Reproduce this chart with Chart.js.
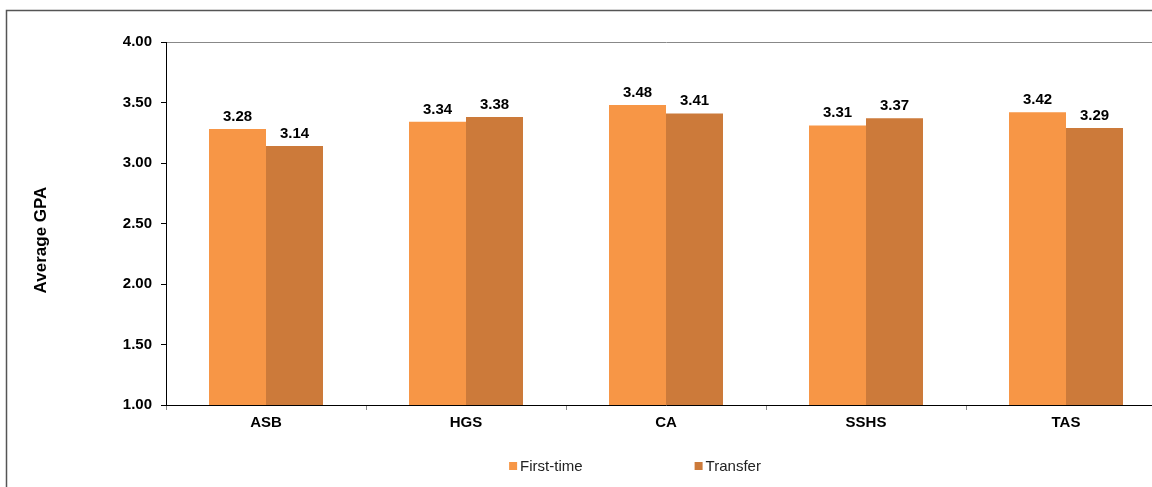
<!DOCTYPE html>
<html>
<head>
<meta charset="utf-8">
<script src="https://cdn.jsdelivr.net/npm/chart.js@4/dist/chart.umd.min.js"></script>
<style>
  html, body { margin: 0; padding: 0; background: #fff; overflow: hidden; }
  #wrap { position: absolute; left: 0; top: 0; width: 1270px; height: 487px; }
</style>
</head>
<body>
<div id="wrap"><canvas id="gpaChart" width="1270" height="487"></canvas></div>
<script>
const schools = ['ASB', 'HGS', 'CA', 'SSHS', 'TAS'];
const firstTime = [3.28, 3.34, 3.48, 3.31, 3.42];
const transfer = [3.14, 3.38, 3.41, 3.37, 3.29];
const yTicks = [1.0, 1.5, 2.0, 2.5, 3.0, 3.5, 4.0];
const yTitle = 'Average GPA';

const FONT = '"Liberation Sans", Arial, sans-serif';

// outer frame of the original chart object
const framePlugin = {
    id: 'frame',
    beforeDraw(chart) {
        const c = chart.ctx;
        c.save();
        c.strokeStyle = '#555';
        c.lineWidth = 1.5;
        c.strokeRect(6.5, 10.5, 1250, 600);
        c.restore();
    }
};

// axis title, placed a bit below the axis middle like the original
const yTitlePlugin = {
    id: 'yTitle',
    afterDraw(chart) {
        const c = chart.ctx;
        c.save();
        c.translate(41, 240);
        c.rotate(-Math.PI / 2);
        c.font = 'bold 17px ' + FONT;
        c.fillStyle = '#000';
        c.textAlign = 'center';
        c.textBaseline = 'middle';
        c.fillText(yTitle, 0, 0);
        c.restore();
    }
};

// value labels above each bar
const valueLabels = {
    id: 'valueLabels',
    afterDatasetsDraw(chart) {
        const c = chart.ctx;
        c.save();
        c.font = 'bold 15px ' + FONT;
        c.fillStyle = '#000';
        c.textAlign = 'center';
        c.textBaseline = 'alphabetic';
        chart.data.datasets.forEach((ds, i) => {
            chart.getDatasetMeta(i).data.forEach((bar, j) => {
                c.fillText(ds.data[j].toFixed(2), bar.x, bar.y - 8);
            });
        });
        c.restore();
    }
};

// legend drawn by hand so the wide gap between items can be kept
const bottomLegend = {
    id: 'bottomLegend',
    afterDraw(chart) {
        const c = chart.ctx;
        const y = 466;
        const gap = 112;
        c.save();
        c.font = '15px ' + FONT;
        c.textBaseline = 'middle';
        const items = chart.data.datasets.map(ds => ({
            text: ds.label, color: ds.backgroundColor, w: 11 + c.measureText(ds.label).width
        }));
        const total = items.reduce((s, it) => s + it.w, 0) + gap * (items.length - 1);
        let x = chart.width / 2 - total / 2;
        items.forEach(it => {
            c.fillStyle = it.color;
            c.fillRect(x, y - 4, 8, 8);
            c.fillStyle = '#222';
            c.fillText(it.text, x + 11, y + 1);
            x += it.w + gap;
        });
        c.restore();
    }
};

new Chart(document.getElementById('gpaChart').getContext('2d'), {
    type: 'bar',
    data: {
        labels: schools,
        datasets: [
            { label: 'First-time', data: firstTime, backgroundColor: '#F79646' },
            { label: 'Transfer', data: transfer, backgroundColor: '#CC7A3A' }
        ]
    },
    options: {
        responsive: false,
        animation: false,
        layout: { padding: { left: 0, right: 104, top: 42, bottom: 52 } },
        datasets: { bar: { categoryPercentage: 0.57, barPercentage: 1.0 } },
        plugins: { legend: { display: false }, tooltip: { enabled: false } },
        scales: {
            x: {
                grid: { color: 'transparent', tickColor: '#888', tickLength: 5, offset: true },
                border: { color: '#000', width: 1 },
                ticks: { color: '#000', padding: 4, font: { family: FONT, size: 15, weight: 'bold' } },
                afterFit: s => { s.height = 30; }
            },
            y: {
                min: 1, max: 4,
                afterBuildTicks: s => { s.ticks = yTicks.map(v => ({ value: v })); },
                grid: {
                    color: ctx => ctx.tick && ctx.tick.value === 4 ? '#888' : 'transparent',
                    tickColor: '#000', tickLength: 5
                },
                border: { color: '#000', width: 1 },
                ticks: {
                    color: '#000', padding: 9,
                    font: { family: FONT, size: 15, weight: 'bold' },
                    callback: v => Number(v).toFixed(2)
                },
                afterFit: s => { s.width = 166; }
            }
        }
    },
    plugins: [framePlugin, yTitlePlugin, valueLabels, bottomLegend]
});
</script>
</body>
</html>
